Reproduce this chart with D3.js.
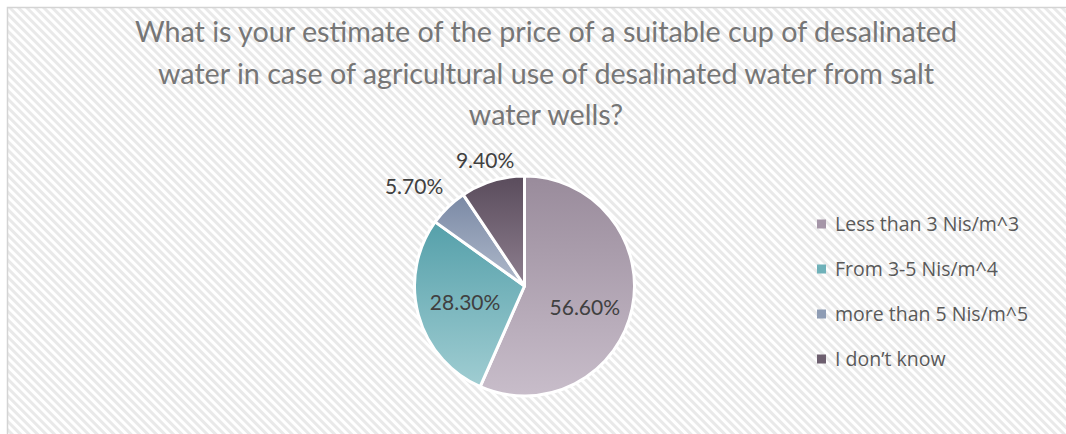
<!DOCTYPE html>
<html>
<head>
<meta charset="utf-8">
<script src="https://cdn.jsdelivr.net/npm/d3@7"></script>
<style>
  html, body { margin: 0; padding: 0; background: #ffffff; }
  svg { display: block; }
</style>
</head>
<body>
<svg id="chart" width="1066" height="434"></svg>
<script>
// Survey answers and their shares (percent)
const categories = ["Less than 3 Nis/m^3", "From 3-5 Nis/m^4", "more than 5 Nis/m^5", "I don\u2019t know"];
const shares = [56.6, 28.3, 5.7, 9.4];
const shareLabels = ["56.60%", "28.30%", "5.70%", "9.40%"];
const titleLines = [
  "What is your estimate of the price of a suitable cup of desalinated",
  "water in case of agricultural use of desalinated water from salt",
  "water wells?"
];

// Gradient stops per slice: darker at top, lighter at bottom
const topColors = ["#998b9b", "#55a0aa", "#7a89a5", "#5a4c5c"];
const bottomColors = ["#c8bdca", "#a0cdd2", "#b0bacb", "#8e7f8f"];
const legendColors = ["#a596a8", "#6fb1b9", "#8e9cb4", "#6d5f6f"];

const svg = d3.select("#chart");
const W = 1066, H = 434;
const defs = svg.append("defs");

// Diagonal striped chart-area texture
const pat = defs.append("pattern")
  .attr("id", "stripes")
  .attr("patternUnits", "userSpaceOnUse")
  .attr("width", 6).attr("height", 6)
  .attr("patternTransform", "rotate(-45)");
pat.append("rect").attr("width", 6).attr("height", 6).attr("fill", "#ffffff");
pat.append("rect").attr("x", 0).attr("width", 3).attr("height", 6).attr("fill", "#e9e9e9");

svg.append("rect")
  .attr("x", 7.5).attr("y", 7.5)
  .attr("width", W + 10).attr("height", H + 10)
  .attr("fill", "url(#stripes)")
  .attr("stroke", "#d4d4d4").attr("stroke-width", 1.5);

// Title
const title = svg.append("text")
  .attr("text-anchor", "middle")
  .attr("font-family", "Lato, 'Open Sans', sans-serif")
  .attr("font-size", 28.7)
  .attr("fill", "#767676");
titleLines.forEach((t, i) => {
  title.append("tspan").attr("x", 546).attr("y", 42 + i * 41.5).text(t);
});

// Pie
const cx = 524.5, cy = 286, r = 110;
const pie = d3.pie().sort(null).value(d => d)(shares);
const arc = d3.arc().innerRadius(0).outerRadius(r);

pie.forEach((d, i) => {
  const g = defs.append("linearGradient")
    .attr("id", "grad" + i)
    .attr("x1", 0).attr("y1", 0).attr("x2", 0).attr("y2", 1);
  g.append("stop").attr("offset", "0%").attr("stop-color", topColors[i]);
  g.append("stop").attr("offset", "100%").attr("stop-color", bottomColors[i]);
});

const pg = svg.append("g").attr("transform", `translate(${cx},${cy})`);
pg.selectAll("path")
  .data(pie)
  .join("path")
  .attr("d", arc)
  .attr("fill", (d, i) => `url(#grad${i})`)
  .attr("stroke", "#ffffff")
  .attr("stroke-width", 3)
  .attr("stroke-linejoin", "round");

// Data labels: inside for the large slices, outside (clear of the rim) for the small ones
const labels = pg.selectAll("text.lbl")
  .data(pie)
  .join("text")
  .attr("class", "lbl")
  .attr("text-anchor", "middle")
  .attr("dy", "0.35em")
  .attr("font-family", "Lato, 'Open Sans', sans-serif")
  .attr("font-size", 21)
  .attr("fill", "#404040")
  .text((d, i) => shareLabels[i]);

labels.each(function (d, i) {
  const mid = (d.startAngle + d.endAngle) / 2;
  const ux = Math.sin(mid), uy = -Math.cos(mid);
  let x, y;
  if (i < 2) {
    x = ux * r * 0.56;
    y = uy * r * 0.56 + (i === 0 ? 9 : 0);
  } else {
    const bb = this.getBBox();
    const dist = r + Math.abs(ux) * bb.width / 2 + Math.abs(uy) * bb.height / 2 + 5;
    x = ux * dist - (i === 2 ? 10 : 0);
    y = uy * dist + 4;
  }
  d3.select(this).attr("x", x).attr("y", y);
});

// Legend
const lg = svg.append("g").attr("transform", "translate(817,224)");
const rows = lg.selectAll("g").data(categories).join("g")
  .attr("transform", (d, i) => `translate(0,${i * 45})`);
rows.append("rect")
  .attr("x", 0).attr("y", -4.5).attr("width", 9).attr("height", 9)
  .attr("fill", (d, i) => legendColors[i]);
rows.append("text")
  .attr("x", 18).attr("y", 0).attr("dy", "0.36em")
  .attr("font-family", "'Open Sans', Lato, sans-serif")
  .attr("font-size", 19.5)
  .attr("fill", "#595959")
  .text(d => d);
</script>
</body>
</html>
